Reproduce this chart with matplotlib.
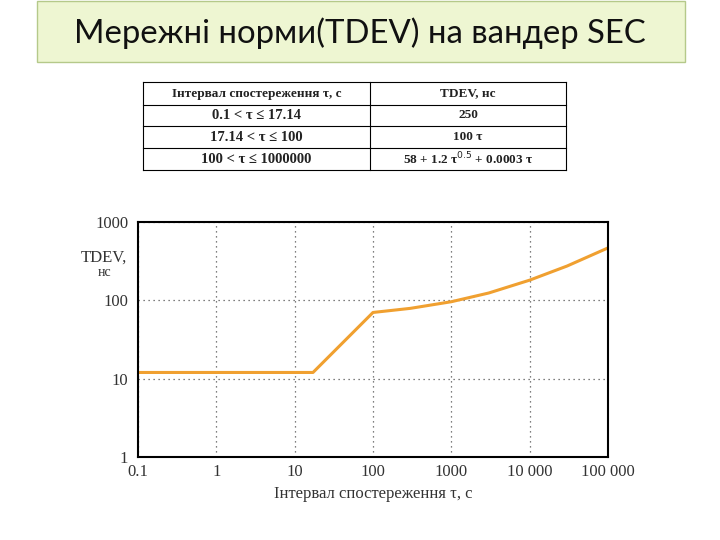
import matplotlib.pyplot as plt
from matplotlib.patches import Rectangle
import numpy as np

TITLE = "Мережні норми(TDEV) на вандер SEC"

TABLE_HEADER = ["Інтервал спостереження τ, с", "TDEV, нс"]
TABLE_ROWS = [
    ["0.1 < τ ≤ 17.14", "250"],
    ["17.14 < τ ≤ 100", "100 τ"],
    ["100 < τ ≤ 1000000", "58 + 1.2 τ$^{0.5}$ + 0.0003 τ"],
]

# curve
TAU = [0.1, 17.14, 100, 300, 1000, 3000, 10000, 30000, 100000]
TDEV = [12, 12, 70, 79, 96, 124, 181, 274, 467]

X_TICKS = [0.1, 1, 10, 100, 1000, 10000, 100000]
X_LABELS = ["0.1", "1", "10", "100", "1000", "10 000", "100 000"]
Y_TICKS = [1, 10, 100, 1000]
Y_LABELS = ["1", "10", "100", "1000"]

SERIF = "Liberation Serif"
LINE_COLOR = "#F0A030"

fig = plt.figure(figsize=(7.2, 5.4), dpi=100)

# title box
fig.patches.append(Rectangle((37 / 720, 1 - 62 / 540), 648 / 720, 61 / 540,
                             transform=fig.transFigure, facecolor="#EEF6D2",
                             edgecolor="#B5C98A", linewidth=1.0))
fig.text(0.5, 1 - 33 / 540, TITLE, ha="center", va="center",
         fontsize=23.7, family="Lato", color="#111111")

# table
col_x = [143, 370, 566]
row_y = [82, 105, 126, 148, 170]
for y in row_y:
    fig.add_artist(plt.Line2D([col_x[0] / 720, col_x[2] / 720], [1 - y / 540] * 2,
                              color="black", linewidth=0.8, transform=fig.transFigure))
for x in col_x:
    fig.add_artist(plt.Line2D([x / 720] * 2, [1 - row_y[0] / 540, 1 - row_y[-1] / 540],
                              color="black", linewidth=0.8, transform=fig.transFigure))
all_rows = [TABLE_HEADER] + TABLE_ROWS
for i, row in enumerate(all_rows):
    yc = 1 - (row_y[i] + row_y[i + 1]) / 2 / 540
    for j, cell in enumerate(row):
        xc = (col_x[j] + col_x[j + 1]) / 2 / 720
        size = 9.5 if i == 0 or j == 1 else 10.5
        fig.text(xc, yc, cell, ha="center", va="center", fontsize=size,
                 family=SERIF, weight="bold", color="#222222")

# chart
ax = fig.add_axes([138 / 720, 1 - 457 / 540, 470 / 720, 235 / 540])
ax.plot(TAU, TDEV, color=LINE_COLOR, linewidth=2.2)
ax.set_xscale("log")
ax.set_yscale("log")
ax.set_xlim(0.1, 100000)
ax.set_ylim(1, 1000)
ax.set_xticks(X_TICKS)
ax.set_xticklabels(X_LABELS, family=SERIF, fontsize=12, color="#333333")
ax.set_yticks(Y_TICKS)
ax.set_yticklabels(Y_LABELS, family=SERIF, fontsize=12, color="#333333")
ax.minorticks_off()
ax.tick_params(axis="x", length=0, pad=5)
ax.tick_params(axis="y", length=0, pad=7)
ax.grid(True, linestyle=(0, (1, 3)), color="#555555", linewidth=0.9)
for spine in ax.spines.values():
    spine.set_linewidth(1.5)
ax.set_xlabel("Інтервал спостереження τ, с", family=SERIF, fontsize=12,
              color="#333333", labelpad=4)
fig.text(104 / 720, 1 - 258 / 540, "TDEV,", ha="center", va="center",
         family=SERIF, fontsize=12, color="#333333")
fig.text(105 / 720, 1 - 272 / 540, "нс", ha="center", va="center",
         family=SERIF, fontsize=10, color="#333333")

fig.savefig("out.png", dpi=100)
